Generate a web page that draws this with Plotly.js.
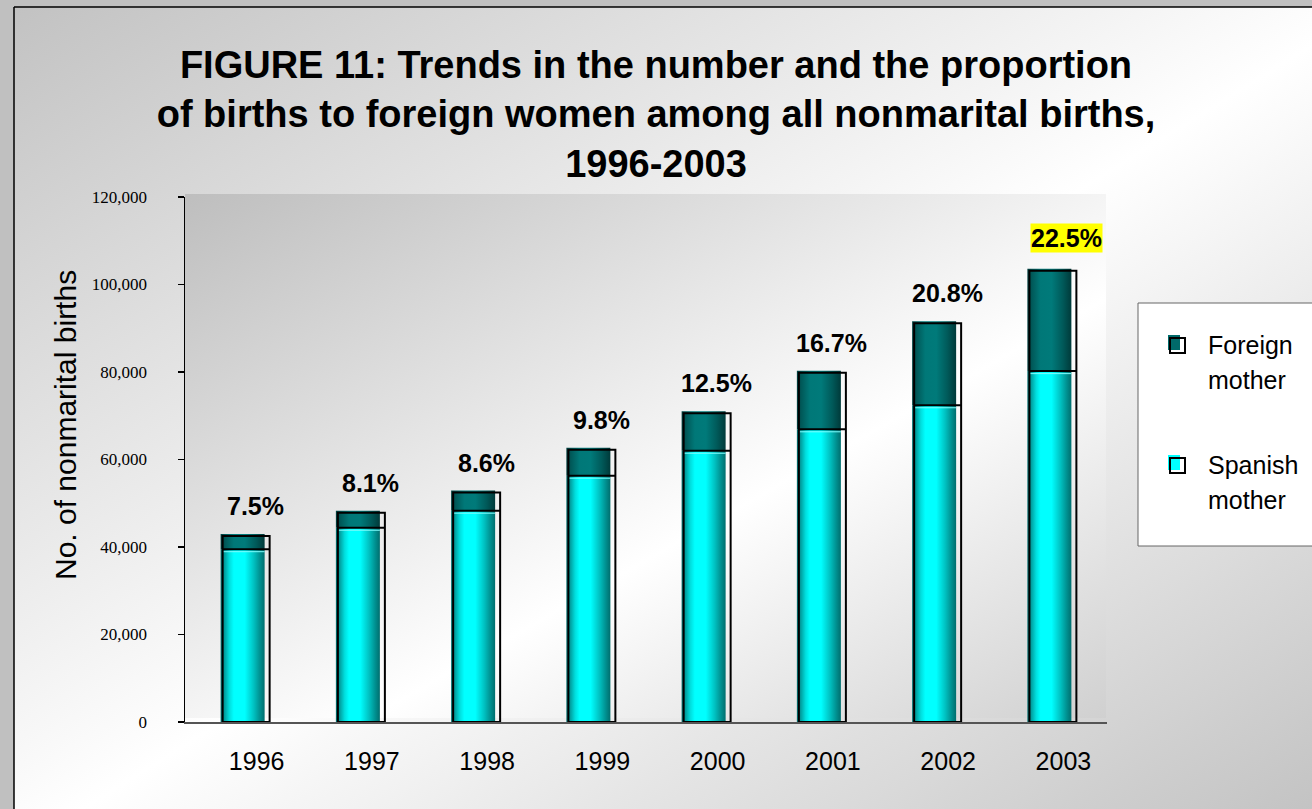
<!DOCTYPE html>
<html>
<head>
<meta charset="utf-8">
<script src="https://cdn.plot.ly/plotly-3.0.1.min.js"></script>
<style>html,body{margin:0;padding:0;background:#c0c0c0;}#chart{width:1312px;height:809px;}</style>
</head>
<body>
<div id="chart"></div>
<script>
// ---- data ----
const years = ['1996', '1997', '1998', '1999', '2000', '2001', '2002', '2003'];
const spanishMother = [39500, 44400, 48300, 56300, 62000, 66900, 72400, 80200];
const foreignMother = [3500, 3900, 4600, 6400, 9000, 13400, 19200, 23400];
const foreignShareLabels = ['7.5%', '8.1%', '8.6%', '9.8%', '12.5%', '16.7%', '20.8%', '22.5%'];
const yTickValues = [0, 20000, 40000, 60000, 80000, 100000, 120000];

// ---- layout geometry ----
const W = 1312, H = 809;
const M = {l: 185, r: 205, t: 197, b: 87};
const plotW = W - M.l - M.r, plotH = H - M.t - M.b;
const yMax = 120000;
const X = px => (px - M.l) / plotW;          // pixel -> paper x
const Y = py => (H - M.b - py) / plotH;      // pixel -> paper y
const unitPx = plotW / years.length;         // pixels per category
const pxToY = p => p * yMax / plotH;         // pixel height -> data units

const SANS = 'Liberation Sans, Arial, Helvetica, sans-serif';
const SERIF = 'Liberation Serif, Times New Roman, serif';

const cyanScale = [[0, '#006a6a'], [0.08, '#009a9a'], [0.2, '#00dede'], [0.3, '#00ffff'],
  [0.55, '#00ffff'], [0.75, '#00c2c2'], [0.9, '#008e8e'], [1, '#006e6e']];
const tealScale = [[0, '#003e3e'], [0.1, '#005858'], [0.3, '#007878'], [0.55, '#007a7a'],
  [0.8, '#005a5a'], [1, '#003a3a']];

const fillL = 22 / unitPx, fillR = 22 / unitPx;      // cylinder half widths
const boxL = 20 / unitPx, boxR = 27 / unitPx;        // front outline offsets
const dropY = pxToY(2);

const traces = [];
const outX = [], outY = [], hiX = [], hiY = [];
years.forEach((yr, i) => {
  const s = spanishMother[i], t = s + foreignMother[i];
  const l = i - fillL, r = i + fillR;
  traces.push({
    type: 'scatter', mode: 'lines', x: [l, r, r, l, l], y: [0, 0, s, s, 0],
    fill: 'toself', line: {width: 0}, hoverinfo: 'skip', showlegend: false,
    fillgradient: {type: 'horizontal', start: l, stop: r, colorscale: cyanScale}
  });
  traces.push({
    type: 'scatter', mode: 'lines', x: [l, r, r, l, l], y: [s, s, t, t, s],
    fill: 'toself', line: {width: 0}, hoverinfo: 'skip', showlegend: false,
    fillgradient: {type: 'horizontal', start: l, stop: r, colorscale: tealScale}
  });
  const bl = i - boxL, br = i + boxR, bt = t - dropY;
  outX.push(bl, br, br, bl, bl, null, bl, br, null);
  outY.push(0, 0, bt, bt, 0, null, s, s, null);
  hiX.push(l + 2 / unitPx, r, null);
  hiY.push(s - pxToY(2.5), s - pxToY(2.5), null);
});
traces.push({type: 'scatter', mode: 'lines', x: hiX, y: hiY, line: {color: '#7ffcfc', width: 1},
  hoverinfo: 'skip', showlegend: false});
traces.push({type: 'scatter', mode: 'lines', x: outX, y: outY, line: {color: '#000000', width: 2},
  hoverinfo: 'skip', showlegend: false});

// ---- percentage labels ----
const annotations = years.map((yr, i) => {
  const last = i === years.length - 1;
  return {
    x: i, y: spanishMother[i] + foreignMother[i], xref: 'x', yref: 'y',
    text: foreignShareLabels[i], showarrow: false, yanchor: 'bottom',
    xshift: last ? 17 : 13, yshift: last ? 16 : 13,
    font: {family: SANS, size: 25, color: '#000', weight: 700},
    bgcolor: last ? '#ffff00' : 'rgba(0,0,0,0)', borderpad: 0
  };
});

// y axis title
annotations.push({
  xref: 'paper', yref: 'paper', x: X(65), y: Y(425), xanchor: 'center', yanchor: 'middle',
  text: 'No. of nonmarital births', textangle: -90, showarrow: false,
  font: {family: SANS, size: 30, color: '#000'}
});

// legend texts
const legendItems = [
  {lines: ['Foreign', 'mother'], base: 353, fill: '#006a6a'},
  {lines: ['Spanish', 'mother'], base: 473, fill: '#00ffff'}
];
const shapes = [];
shapes.push({type: 'rect', xref: 'paper', yref: 'paper', x0: X(1138), x1: X(1313), y0: Y(546), y1: Y(303),
  fillcolor: '#ffffff', line: {color: '#666666', width: 1}, layer: 'above'});
legendItems.forEach(it => {
  it.lines.forEach((ln, k) => {
    annotations.push({xref: 'paper', yref: 'paper', x: X(1206), y: Y(it.base + 35 * k - 8),
      xanchor: 'left', yanchor: 'middle', text: ln, showarrow: false,
      font: {family: SANS, size: 25, color: '#000'}});
  });
  shapes.push({type: 'rect', xref: 'paper', yref: 'paper', x0: X(1168), x1: X(1180),
    y0: Y(it.base - 3), y1: Y(it.base - 18), fillcolor: it.fill, line: {width: 0}, layer: 'above'});
  shapes.push({type: 'rect', xref: 'paper', yref: 'paper', x0: X(1170), x1: X(1185),
    y0: Y(it.base), y1: Y(it.base - 15), fillcolor: 'rgba(0,0,0,0)', line: {color: '#000', width: 2}, layer: 'above'});
});

// outer frame lines (top and left)
shapes.push({type: 'line', xref: 'paper', yref: 'paper', x0: X(14), x1: X(1320), y0: Y(7), y1: Y(7),
  line: {color: '#000', width: 1.5}, layer: 'below'});
shapes.push({type: 'line', xref: 'paper', yref: 'paper', x0: X(14), x1: X(14), y0: Y(7), y1: Y(820),
  line: {color: '#000', width: 1.5}, layer: 'below'});

// gradient backgrounds as svg data uris
function gradSvg(stops) {
  const s = stops.map(([o, c]) => `<stop offset="${o}" stop-color="${c}"/>`).join('');
  const svg = `<svg xmlns="http://www.w3.org/2000/svg" width="100" height="100" viewBox="0 0 100 100" preserveAspectRatio="none"><defs><linearGradient id="g" x1="0" y1="0" x2="1" y2="1">${s}</linearGradient></defs><rect width="100" height="100" fill="url(#g)"/></svg>`;
  return 'data:image/svg+xml;charset=utf-8,' + encodeURIComponent(svg);
}
const images = [
  {source: gradSvg([[0, '#c2c2c2'], [0.52, '#ffffff'], [1, '#c2c2c2']]), xref: 'paper', yref: 'paper',
    x: X(14), y: Y(7), sizex: (W + 10 - 14) / plotW, sizey: (H + 10 - 7) / plotH,
    sizing: 'stretch', xanchor: 'left', yanchor: 'top', layer: 'below'},
  {source: gradSvg([[0, '#bebebe'], [0.6, '#ffffff'], [1, '#d0d0d0']]), xref: 'paper', yref: 'paper',
    x: X(185), y: Y(194), sizex: (1106 - 185) / plotW, sizey: (718 - 194) / plotH,
    sizing: 'stretch', xanchor: 'left', yanchor: 'top', layer: 'below'}
];

const layout = {
  width: W, height: H, margin: M,
  paper_bgcolor: '#c0c0c0', plot_bgcolor: 'rgba(0,0,0,0)',
  showlegend: false, hovermode: false,
  title: {
    text: 'FIGURE 11: Trends in the number and the proportion<br>of births to foreign women among all nonmarital births,<br>1996-2003',
    x: 0.5, xref: 'container', xanchor: 'center', y: 1 - 78 / H, yref: 'container', yanchor: 'top',
    font: {family: SANS, size: 38, color: '#000', weight: 700}
  },
  xaxis: {
    range: [-0.5, years.length - 0.5], tickvals: years.map((y, i) => i), ticktext: years,
    showline: true, linecolor: '#555555', linewidth: 1.5, showgrid: false, zeroline: false,
    ticks: '', ticklabelshift: 14, ticklabelstandoff: 16,
    tickfont: {family: SANS, size: 25, color: '#000'}, fixedrange: true
  },
  yaxis: {
    range: [0, yMax], tickvals: yTickValues, tickformat: ',d',
    showline: true, linecolor: '#000', linewidth: 1.5, showgrid: false, zeroline: false,
    ticks: 'outside', ticklen: 6, tickcolor: '#000', tickwidth: 1.2, ticklabelstandoff: 27,
    tickfont: {family: SERIF, size: 17, color: '#000'}, fixedrange: true
  },
  annotations, shapes, images
};

Plotly.newPlot('chart', traces, layout, {displayModeBar: false, staticPlot: true});
</script>
</body>
</html>
